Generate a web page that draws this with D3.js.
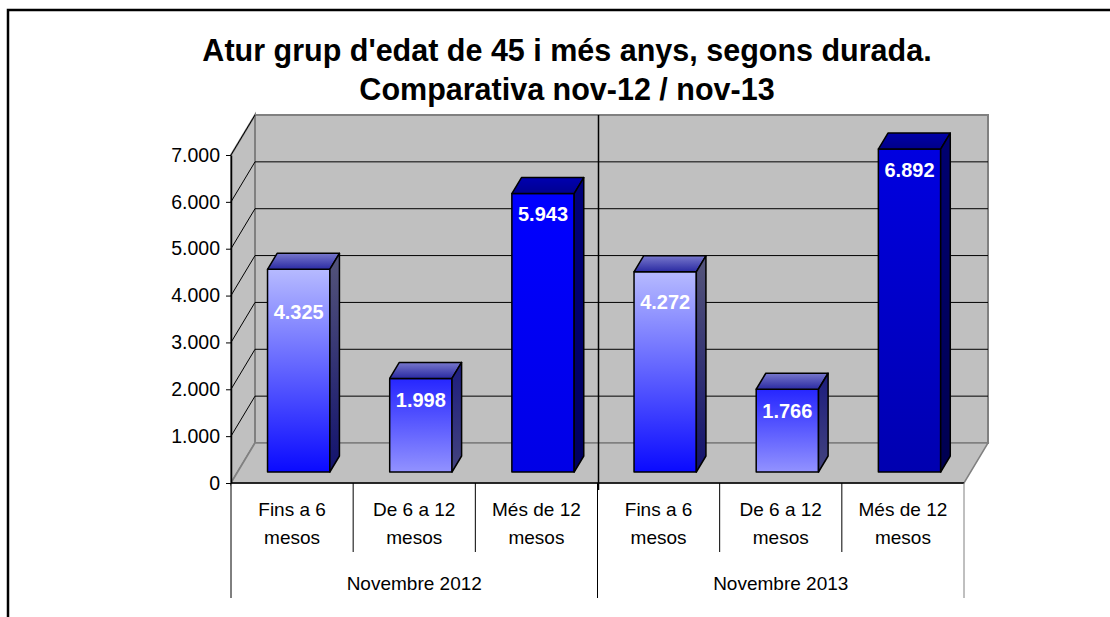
<!DOCTYPE html>
<html>
<head>
<meta charset="utf-8">
<script src="https://cdn.jsdelivr.net/npm/d3@7"></script>
<style>
  html, body { margin: 0; padding: 0; background: #fff; }
  svg { display: block; font-family: Arial, 'Liberation Sans', sans-serif; }
</style>
</head>
<body>
<figure style="margin:0"></figure>
<script>
// data
const titleLines = ["Atur grup d'edat de 45 i més anys, segons durada.", 'Comparativa nov-12 / nov-13']
const groups = ['Novembre 2012', 'Novembre 2013']
const durations = [['Fins a 6', 'mesos'], ['De 6 a 12', 'mesos'], ['Més de 12', 'mesos']]
const values2012 = [4325, 1998, 5943]
const values2013 = [4272, 1766, 6892]
const yTicks = [0, 1000, 2000, 3000, 4000, 5000, 6000, 7000]

const width = 1110
const height = 617
const plot = { left: 231, right: 964, zero: 483, top: 155 }
const depth = { dx: 24, dy: -40 }
// bars sit between these fractions of the floor depth
const barFront = 0.275
const barBack = 0.675
// label drop below the bar top (px), as placed in the original
const labelDrop = [43, 22, 20, 30, 22, 21]

const rows = []
groups.forEach((g, gi) => {
  const vals = gi === 0 ? values2012 : values2013
  durations.forEach((d, di) => rows.push({ key: g + '|' + di, group: g, gi, di, lines: d, value: vals[di] }))
})

const fmt = d3.formatLocale({ decimal: ',', thousands: '.', grouping: [3], currency: ['', '€'] }).format(',d')

const x = d3.scaleBand().domain(rows.map(d => d.key)).range([plot.left, plot.right]).paddingInner(0).paddingOuter(0)
const y = d3.scaleLinear().domain([0, 7000]).range([plot.zero, plot.top])

const svg = d3.select('figure').append('svg')
  .attr('width', width)
  .attr('height', height)

// gradients
const defs = svg.append('defs')
const grad = (id, stops, x2 = 0, y2 = 1) => {
  const g = defs.append('linearGradient').attr('id', id)
    .attr('x1', 0).attr('y1', 0).attr('x2', x2).attr('y2', y2)
  stops.forEach((c, i) => g.append('stop').attr('offset', i / (stops.length - 1)).attr('stop-color', c))
}
const frontFills = [['#b6baff', '#0a0aff'], ['#2626ff', '#9292ff'], ['#0000ff', '#0000e6'],
  ['#b6baff', '#0a0aff'], ['#2626ff', '#9292ff'], ['#0000e0', '#0000b0']]
const topFills = [['#7878cc', '#2a2aa2'], ['#7878cc', '#2a2aa2'], ['#0000b0', '#000090'],
  ['#7878cc', '#2a2aa2'], ['#7878cc', '#2a2aa2'], ['#0000a8', '#000088']]
const sideFills = [['#55557a', '#12126e'], ['#1c1c7e', '#44447e'], ['#00007a', '#00005e'],
  ['#55557a', '#12126e'], ['#1c1c7e', '#44447e'], ['#000070', '#000050']]
rows.forEach((d, i) => {
  grad('front' + i, frontFills[i])
  grad('top' + i, topFills[i])
  grad('side' + i, sideFills[i])
})

// outer frame
svg.append('rect')
  .attr('x', 8).attr('y', 10)
  .attr('width', width).attr('height', height)
  .attr('fill', 'none').attr('stroke', '#000').attr('stroke-width', 2.5)

// title
svg.append('g')
  .selectAll('text')
  .data(titleLines)
  .join('text')
  .attr('x', 567)
  .attr('y', (d, i) => 61 + i * 39)
  .attr('text-anchor', 'middle')
  .style('font-size', '30.5px')
  .style('font-weight', 'bold')
  .text(d => d)

// 3d walls
const pt = (px, py, f = 0) => [px + depth.dx * f, py + depth.dy * f]
const poly = pts => pts.map(p => p.join(',')).join(' ')
const wallFill = '#c0c0c0'
const wallStroke = '#808080'

svg.append('polygon') // back wall
  .attr('points', poly([pt(plot.left, y(7000), 1), pt(plot.right, y(7000), 1), pt(plot.right, y(0), 1), pt(plot.left, y(0), 1)]))
  .attr('fill', wallFill).attr('stroke', wallStroke).attr('stroke-width', 2)
svg.append('polygon') // left wall
  .attr('points', poly([pt(plot.left, y(7000)), pt(plot.left, y(7000), 1), pt(plot.left, y(0), 1), pt(plot.left, y(0))]))
  .attr('fill', wallFill).attr('stroke', wallStroke).attr('stroke-width', 2)
svg.append('polygon') // floor
  .attr('points', poly([pt(plot.left, y(0)), pt(plot.right, y(0)), pt(plot.right, y(0), 1), pt(plot.left, y(0), 1)]))
  .attr('fill', wallFill).attr('stroke', wallStroke).attr('stroke-width', 1.5)

// gridlines on back wall and left wall
const grid = svg.append('g').attr('stroke', '#000').attr('stroke-width', 1)
grid.selectAll('line.back')
  .data(yTicks.filter(v => v > 0 && v < 7000))
  .join('line')
  .attr('class', 'back')
  .attr('x1', plot.left + depth.dx).attr('x2', plot.right + depth.dx)
  .attr('y1', d => y(d) + depth.dy).attr('y2', d => y(d) + depth.dy)
grid.selectAll('line.side')
  .data(yTicks.filter(v => v > 0))
  .join('line')
  .attr('class', 'side')
  .attr('x1', plot.left).attr('x2', plot.left + depth.dx)
  .attr('y1', d => y(d)).attr('y2', d => y(d) + depth.dy)

// divider between the two months
svg.append('line')
  .attr('x1', x(rows[3].key) + 1).attr('x2', x(rows[3].key) + 1)
  .attr('y1', y(7000) + depth.dy).attr('y2', plot.zero + 7)
  .attr('stroke', '#000').attr('stroke-width', 1.5)

// bars
const bw = x.bandwidth() * 0.51
const bars = svg.append('g')
  .selectAll('g')
  .data(rows)
  .join('g')

bars.each(function (d, i) {
  const g = d3.select(this)
  const cx = x(d.key) + x.bandwidth() / 2
  const x0 = cx - bw / 2
  const x1 = cx + bw / 2
  const yt = y(d.value)
  const yb = y(0)
  const f0 = barFront
  const f1 = barBack
  g.append('polygon')
    .attr('points', poly([pt(x0, yt, f0), pt(x1, yt, f0), pt(x1, yb, f0), pt(x0, yb, f0)]))
    .attr('fill', `url(#front${i})`)
  g.append('polygon')
    .attr('points', poly([pt(x0, yt, f0), pt(x0, yt, f1), pt(x1, yt, f1), pt(x1, yt, f0)]))
    .attr('fill', `url(#top${i})`)
  g.append('polygon')
    .attr('points', poly([pt(x1, yt, f0), pt(x1, yt, f1), pt(x1, yb, f1), pt(x1, yb, f0)]))
    .attr('fill', `url(#side${i})`)
  g.selectAll('polygon')
    .attr('stroke', '#000').attr('stroke-width', 1.5).attr('stroke-linejoin', 'round')

  const [lx, ly] = pt(cx, yt, f0)
  g.append('text')
    .attr('x', lx)
    .attr('y', ly + labelDrop[i])
    .attr('dy', '0.35em')
    .attr('text-anchor', 'middle')
    .attr('fill', '#fff')
    .style('font-size', '20px')
    .style('font-weight', 'bold')
    .text(fmt(d.value))
})

// value axis
const yAxis = svg.append('g')
  .attr('transform', `translate(${plot.left},0)`)
  .call(d3.axisLeft(y).tickValues(yTicks).tickFormat(fmt).tickSize(5).tickSizeOuter(0))
yAxis.select('.domain').attr('stroke', '#000').attr('stroke-width', 1.5)
yAxis.selectAll('.tick line').attr('stroke', '#000')
yAxis.selectAll('.tick text')
  .attr('x', -11)
  .attr('fill', '#000')
  .style('font-size', '19.5px')
  .style('font-family', 'Arial, Liberation Sans, sans-serif')

// category axis
const cat = svg.append('g')
cat.append('line')
  .attr('x1', plot.left).attr('x2', plot.right)
  .attr('y1', plot.zero).attr('y2', plot.zero)
  .attr('stroke', '#000').attr('stroke-width', 1.5)
cat.selectAll('line.tick')
  .data(rows.filter(d => d.di > 0))
  .join('line')
  .attr('class', 'tick')
  .attr('x1', d => x(d.key)).attr('x2', d => x(d.key))
  .attr('y1', plot.zero).attr('y2', plot.zero + 69)
  .attr('stroke', '#000')
cat.selectAll('line.group')
  .data([0, 3, 6])
  .join('line')
  .attr('class', 'group')
  .attr('x1', i => i < 6 ? x(rows[i].key) : plot.right)
  .attr('x2', i => i < 6 ? x(rows[i].key) : plot.right)
  .attr('y1', plot.zero).attr('y2', plot.zero + 115)
  .attr('stroke', (i) => i === 6 ? '#808080' : '#000')

cat.selectAll('text.cat')
  .data(rows)
  .join('text')
  .attr('class', 'cat')
  .attr('text-anchor', 'middle')
  .style('font-size', '19px')
  .each(function (d) {
    const t = d3.select(this)
    d.lines.forEach((l, li) => {
      t.append('tspan')
        .attr('x', x(d.key) + x.bandwidth() / 2)
        .attr('y', plot.zero + 33 + li * 28)
        .text(l)
    })
  })

cat.selectAll('text.group')
  .data(groups)
  .join('text')
  .attr('class', 'group')
  .attr('x', (g, gi) => x(rows[gi * 3 + 1].key) + x.bandwidth() / 2)
  .attr('y', plot.zero + 107)
  .attr('text-anchor', 'middle')
  .style('font-size', '19px')
  .text(g => g)
</script>
</body>
</html>
